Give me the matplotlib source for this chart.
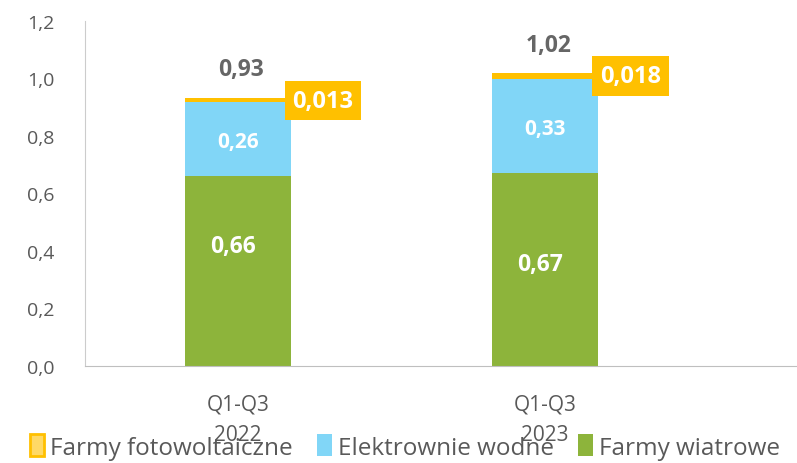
import numpy as np
import matplotlib.pyplot as plt
from matplotlib.patches import Patch

# data
categories = ['Q1-Q3\n2022', 'Q1-Q3\n2023']
wiatrowe = [0.66, 0.67]
wodne = [0.26, 0.33]
fotowolt = [0.013, 0.018]
totals = ['0,93', '1,02']
wiatr_lbl = ['0,66', '0,67']
wodne_lbl = ['0,26', '0,33']
foto_lbl = ['0,013', '0,018']
yticks = [0.0, 0.2, 0.4, 0.6, 0.8, 1.0, 1.2]

green = '#8DB43B'
blue = '#81D6F7'
yellow = '#FFC000'
grey = '#666666'

plt.rcParams['font.family'] = ['Open Sans', 'DejaVu Sans']

fig = plt.figure(figsize=(7.97, 4.64), dpi=100)
ax = fig.add_axes([85/797, 1-367/464, 712/797, 345/464])

x = np.arange(len(categories))
w = 0.345
ax.bar(x, wiatrowe, w, color=green)
ax.bar(x, wodne, w, bottom=wiatrowe, color=blue)
bottom2 = np.array(wiatrowe) + np.array(wodne)
ax.bar(x, fotowolt, w, bottom=bottom2, color=yellow)

# where the green labels sit inside the bar (fraction of bar height)
green_pos = [0.63, 0.53]

for i in range(len(categories)):
    tot = bottom2[i] + fotowolt[i]
    ax.text(x[i] - 0.015, wiatrowe[i]*green_pos[i], wiatr_lbl[i], ha='center', va='center',
            color='white', fontsize=16.5, fontweight='bold')
    ax.text(x[i], wiatrowe[i] + wodne[i]/2 - 0.01, wodne_lbl[i], ha='center', va='center',
            color='white', fontsize=15, fontweight='bold')
    ax.text(x[i] + 0.01, tot + 0.1, totals[i], ha='center', va='center',
            color=grey, fontsize=16.5, fontweight='bold')
    ax.text(x[i] + 0.277, tot - 0.01, foto_lbl[i], ha='center', va='center',
            color='white', fontsize=17, fontweight='bold',
            bbox=dict(boxstyle='square,pad=0.33', fc=yellow, ec='none'))

ax.set_xlim(-0.498, 1.82)
ax.set_ylim(0, 1.2)
ax.set_yticks(yticks)
ax.set_yticklabels([f'{v:.1f}'.replace('.', ',') for v in yticks], fontsize=14)
ax.set_xticks(x)
ax.set_xticklabels(categories, linespacing=1.6, fontsize=15)
ax.tick_params(length=0, labelcolor='#595959')
ax.tick_params(axis='y', pad=22)
ax.tick_params(axis='x', pad=20)
for s in ['top', 'right']:
    ax.spines[s].set_visible(False)
ax.spines['left'].set_color('#cccccc')
ax.spines['bottom'].set_color('#bfbfbf')

handles = [Patch(fc='#FFD966', ec=yellow, lw=2), Patch(fc=blue), Patch(fc=green)]
labels = ['Farmy fotowoltaiczne', 'Elektrownie wodne', 'Farmy wiatrowe']
fig.legend(handles, labels, loc='lower center', ncol=3, frameon=False,
           bbox_to_anchor=(0.508, -0.04), fontsize=17.5, labelcolor='#595959',
           handlelength=0.6, handleheight=1.0, handletextpad=0.25, columnspacing=1.0)

fig.savefig('out.png', dpi=100)
